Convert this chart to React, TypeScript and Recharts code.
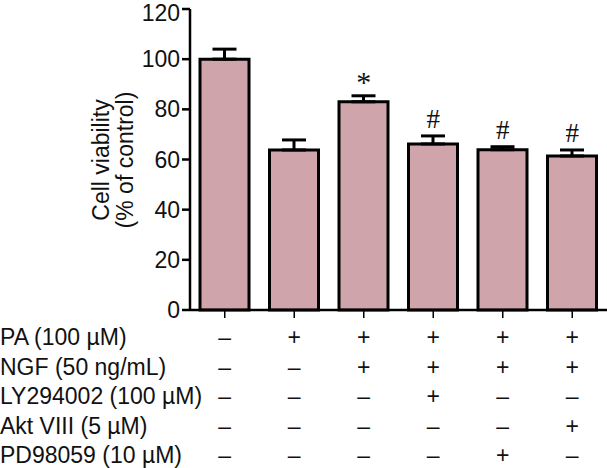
import { Bar, ComposedChart, ErrorBar, LabelList, Line, XAxis, YAxis } from "recharts";

const groups = ["g1", "g2", "g3", "g4", "g5", "g6"];
const viability = [100, 63.8, 83, 66.2, 63.9, 61.4];
const sem = [4, 4, 2.4, 3.2, 1.2, 2.4];
const marks = ["", "", "*", "#", "#", "#"];
const rowLabels = ["PA (100 µM)", "NGF (50 ng/mL)", "LY294002 (100 µM)", "Akt VIII (5 µM)", "PD98059 (10 µM)"];
const treatments = [
  ["–", "+", "+", "+", "+", "+"],
  ["–", "–", "+", "+", "+", "+"],
  ["–", "–", "–", "+", "–", "–"],
  ["–", "–", "–", "–", "–", "+"],
  ["–", "–", "–", "–", "+", "–"],
];
const yTicks = [0, 20, 40, 60, 80, 100, 120];

const data = groups.map((g, i) => ({
  group: g,
  mean: viability[i],
  err: [0, sem[i]],
  top: viability[i] + sem[i],
  mark: marks[i],
}));

const font = "'Liberation Sans', Arial, sans-serif";

function TableTick(props: any) {
  const { x, index } = props;
  return (
    <g>
      {index === 0 &&
        rowLabels.map((label, r) => (
          <text key={label} x={0} y={337 + r * 29.5} fontSize={23} fontFamily={font} fill="#111" dominantBaseline="central">
            {label}
          </text>
        ))}
      {treatments.map((row, r) => (
        <text
          key={r}
          x={x}
          y={337 + r * 29.5}
          fontSize={23}
          fontFamily={font}
          fill="#111"
          textAnchor="middle"
          dominantBaseline="central"
        >
          {row[index]}
        </text>
      ))}
    </g>
  );
}

function YLabel() {
  return (
    <g fontFamily={font} fontSize={23} fill="#111">
      <text x={101} y={160} textAnchor="middle" dominantBaseline="central" transform="rotate(-90, 101, 160)">
        Cell viability
      </text>
      <text x={125} y={160} textAnchor="middle" dominantBaseline="central" transform="rotate(-90, 125, 160)">
        (% of control)
      </text>
    </g>
  );
}

function MarkLabel(props: any) {
  const { x, y, value } = props;
  if (!value) return null;
  return (
    <text
      x={x}
      y={value === "*" ? y - 14 : y - 17}
      textAnchor="middle"
      dominantBaseline="central"
      fontFamily="'Liberation Serif', 'Times New Roman', serif"
      fontSize={value === "*" ? 30 : 27}
      fill="#111"
    >
      {value}
    </text>
  );
}

export default function App() {
  return (
    <div style={{ position: "absolute", left: 0, top: 0, background: "#fff" }}>
      <ComposedChart width={607} height={468} data={data} margin={{ top: 9, right: 0, left: 0, bottom: 0 }}>
        <XAxis
          dataKey="group"
          height={158}
          axisLine={{ stroke: "#000", strokeWidth: 2.5 }}
          tickLine={{ stroke: "#000", strokeWidth: 1.5 }}
          tickSize={8}
          tick={<TableTick />}
          interval={0}
        />
        <YAxis
          width={190}
          domain={[0, 120]}
          ticks={yTicks}
          axisLine={{ stroke: "#000", strokeWidth: 2.5 }}
          tickLine={{ stroke: "#000", strokeWidth: 2.5 }}
          tickSize={8}
          tickMargin={2}
          tick={{ fontSize: 23, fontFamily: font, fill: "#111" }}
          label={<YLabel />}
        />
        <Bar dataKey="mean" barSize={49} fill="#cfa4ab" stroke="#000" strokeWidth={3} isAnimationActive={false}>
          <ErrorBar dataKey="err" width={12} stroke="#000" strokeWidth={3} direction="y" />
        </Bar>
        <Line dataKey="top" stroke="none" dot={false} activeDot={false} isAnimationActive={false}>
          <LabelList dataKey="mark" content={<MarkLabel />} />
        </Line>
      </ComposedChart>
    </div>
  );
}
